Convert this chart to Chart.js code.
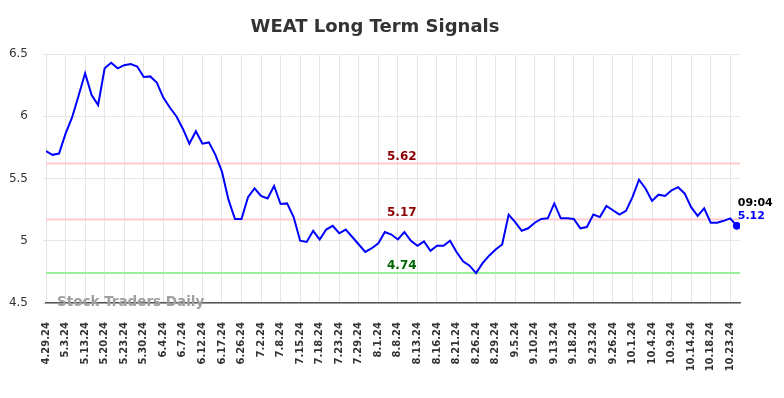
<!DOCTYPE html>
<html>
<head>
<meta charset="utf-8">
<title>WEAT Long Term Signals</title>
<script src="https://cdn.jsdelivr.net/npm/chart.js@4.4.1/dist/chart.umd.min.js"></script>
<style>
  html, body { margin: 0; padding: 0; background: #ffffff; }
  #wrap { width: 784px; height: 398px; }
</style>
</head>
<body>
<div id="wrap"><canvas id="signals"></canvas></div>
<script>
// Tick labels shown on the x axis (one every 3 sessions)
const tickLabels = [
  '4.29.24', '5.3.24', '5.13.24', '5.20.24', '5.23.24', '5.30.24', '6.4.24', '6.7.24',
  '6.12.24', '6.17.24', '6.26.24', '7.2.24', '7.8.24', '7.15.24', '7.18.24', '7.23.24',
  '7.29.24', '8.1.24', '8.8.24', '8.13.24', '8.16.24', '8.21.24', '8.26.24', '8.29.24',
  '9.5.24', '9.10.24', '9.13.24', '9.18.24', '9.23.24', '9.26.24', '10.1.24', '10.4.24',
  '10.9.24', '10.14.24', '10.18.24', '10.23.24'
];

// WEAT closing prices
const prices = [
  5.72, 5.69, 5.70, 5.86, 5.99, 6.165, 6.345, 6.17, 6.09, 6.385,
  6.43, 6.385, 6.41, 6.42, 6.40, 6.315, 6.32, 6.27, 6.15, 6.07,
  6.00, 5.90, 5.78, 5.88, 5.78, 5.79, 5.69, 5.555, 5.33, 5.175,
  5.175, 5.35, 5.42, 5.36, 5.34, 5.44, 5.295, 5.30, 5.19, 5.00,
  4.99, 5.08, 5.01, 5.09, 5.12, 5.06, 5.09, 5.03, 4.97, 4.91,
  4.94, 4.98, 5.07, 5.05, 5.01, 5.07, 5.00, 4.96, 4.995, 4.92,
  4.96, 4.96, 5.00, 4.91, 4.835, 4.80, 4.74, 4.82, 4.88, 4.93,
  4.97, 5.21, 5.15, 5.08, 5.10, 5.145, 5.175, 5.18, 5.30, 5.18,
  5.18, 5.175, 5.10, 5.11, 5.21, 5.19, 5.28, 5.245, 5.21, 5.24,
  5.35, 5.49, 5.42, 5.32, 5.37, 5.36, 5.405, 5.43, 5.38, 5.27,
  5.20, 5.26, 5.145, 5.145, 5.16, 5.18, 5.12
];

// Signal levels
const levelValues = [5.62, 5.17, 4.74];
const levelKinds = ['resistance', 'resistance', 'support'];

const yTicks = [4.5, 5, 5.5, 6, 6.5];
const lastTime = '09:04';

const COLORS = {
  line: '#0000ff',
  text: '#333333',
  grid: '#e6e6e6',
  axis: '#555555',
  resistanceLine: '#ffcccc',
  resistanceText: '#8b0000',
  supportLine: '#99ee99',
  supportText: '#006400',
  watermark: '#a0a0a0'
};

const FONT = '"DejaVu Sans", Verdana, sans-serif';

// Horizontal signal lines + their labels, drawn behind the price line
const levelsPlugin = {
  id: 'levels',
  beforeDatasetsDraw(chart) {
    const { ctx, chartArea, scales } = chart;
    ctx.save();
    levelValues.forEach((v, i) => {
      const y = scales.y.getPixelForValue(v);
      const support = levelKinds[i] === 'support';
      ctx.strokeStyle = support ? COLORS.supportLine : COLORS.resistanceLine;
      ctx.lineWidth = 2;
      ctx.beginPath();
      ctx.moveTo(chartArea.left, y);
      ctx.lineTo(chartArea.right, y);
      ctx.stroke();

      ctx.fillStyle = support ? COLORS.supportText : COLORS.resistanceText;
      ctx.font = 'bold 12px ' + FONT;
      ctx.textAlign = 'left';
      ctx.textBaseline = 'alphabetic';
      ctx.fillText(v.toFixed(2), 387, y - 4);
    });
    ctx.restore();
  }
};

// Title, watermark and last-value tag
const overlayPlugin = {
  id: 'overlay',
  afterDraw(chart) {
    const { ctx, scales } = chart;
    ctx.save();
    ctx.textBaseline = 'alphabetic';

    ctx.fillStyle = COLORS.text;
    ctx.font = 'bold 18px ' + FONT;
    ctx.textAlign = 'center';
    ctx.fillText('WEAT Long Term Signals', 375, 32);

    ctx.fillStyle = COLORS.watermark;
    ctx.font = 'bold 13.5px ' + FONT;
    ctx.textAlign = 'left';
    ctx.fillText('Stock Traders Daily', 57, 306);

    const last = prices.length - 1;
    const px = scales.x.getPixelForValue(last);
    const py = scales.y.getPixelForValue(prices[last]);
    ctx.font = 'bold 11px ' + FONT;
    ctx.fillStyle = '#000000';
    ctx.fillText(lastTime, px + 1, py - 20);
    ctx.fillStyle = COLORS.line;
    ctx.fillText(prices[last].toFixed(2), px + 1, py - 7);
    ctx.restore();
  }
};

function createSignalsChart(canvasId) {
  const ctx = document.getElementById(canvasId);
  if (!ctx) return null;

  const lastIndex = prices.length - 1;

  return new Chart(ctx, {
    type: 'line',
    data: {
      datasets: [
        {
          label: 'WEAT',
          data: prices.map((p, i) => ({ x: i, y: p })),
          borderColor: COLORS.line,
          backgroundColor: COLORS.line,
          borderWidth: 2,
          tension: 0,
          fill: false,
          pointRadius: (c) => (c.dataIndex === lastIndex ? 3.5 : 0),
          pointBackgroundColor: COLORS.line,
          pointBorderColor: COLORS.line,
          pointBorderWidth: 1,
          pointHoverRadius: 0
        }
      ]
    },
    options: {
      responsive: true,
      maintainAspectRatio: false,
      animation: false,
      layout: { padding: { top: 54, right: 44, left: 0, bottom: 0 } },
      plugins: {
        legend: { display: false },
        title: { display: false },
        tooltip: { enabled: false }
      },
      scales: {
        x: {
          type: 'linear',
          min: 0,
          max: lastIndex + 0.5,
          afterFit: (scale) => { scale.height = 95; },
          grid: { color: COLORS.grid, lineWidth: 1, drawTicks: false },
          border: { color: COLORS.axis, width: 1.5 },
          ticks: {
            stepSize: 3,
            autoSkip: false,
            includeBounds: false,
            minRotation: 90,
            maxRotation: 90,
            padding: 19,
            color: COLORS.text,
            font: { family: FONT, size: 10, weight: 'bold' },
            callback: (value) => tickLabels[Math.round(value / 3)]
          }
        },
        y: {
          min: yTicks[0],
          max: yTicks[yTicks.length - 1],
          afterFit: (scale) => { scale.width = 46; },
          afterBuildTicks: (scale) => { scale.ticks = yTicks.map((v) => ({ value: v })); },
          grid: { color: COLORS.grid, lineWidth: 1, tickLength: 3 },
          border: { display: false },
          ticks: {
            padding: 15,
            color: COLORS.text,
            font: { family: FONT, size: 12 },
            callback: (value) => String(value)
          }
        }
      }
    },
    plugins: [levelsPlugin, overlayPlugin]
  });
}

createSignalsChart('signals');
</script>
</body>
</html>
